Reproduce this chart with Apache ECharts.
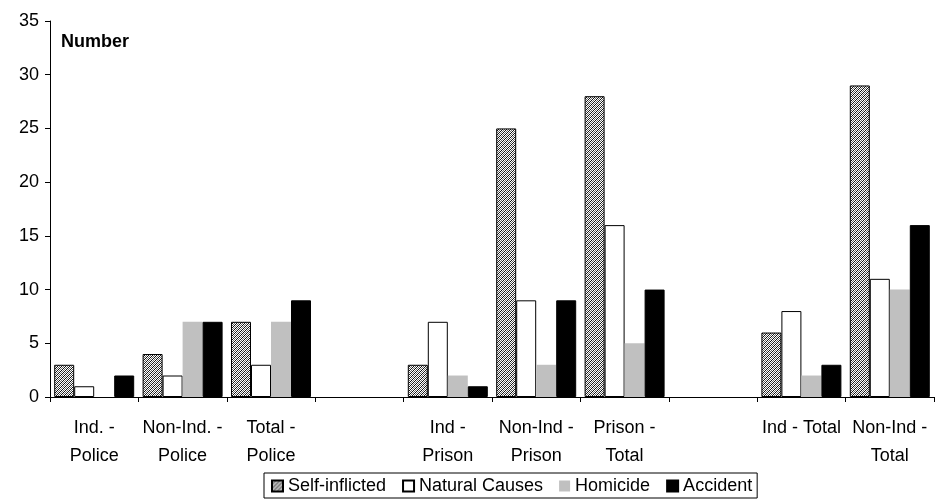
<!DOCTYPE html>
<html><head><meta charset="utf-8">
<script src="https://cdn.jsdelivr.net/npm/echarts@6/dist/echarts.min.js"></script>
<style>html,body{margin:0;padding:0;background:#fff}#c{width:942px;height:499px}</style>
</head><body><div id="c"></div>
<script>
const categories = ["Ind. -\nPolice","Non-Ind. -\nPolice","Total -\nPolice","","Ind -\nPrison","Non-Ind -\nPrison","Prison -\nTotal","","Ind - Total","Non-Ind -\nTotal"];
const selfInflicted = [3,4,7,null,3,25,28,null,6,29];
const naturalCauses = [1,2,3,null,7,9,16,null,8,11];
const homicide = [0,7,7,null,2,3,5,null,2,10];
const accident = [2,7,9,null,1,9,10,null,3,16];
const yTicks = {min:0,max:35,interval:5};

const pc = document.createElement('canvas');
pc.width = 4; pc.height = 4;
const g = pc.getContext('2d');
g.fillStyle = '#ffffff'; g.fillRect(0,0,4,4);
g.fillStyle = '#666666';
for (let i=0;i<4;i++){ g.fillRect((i+2)%4,3-i,1,1); }
g.fillStyle = '#111111';
for (let i=0;i<4;i++){ g.fillRect(i,3-i,1,1); }

const font = "'Liberation Sans', Arial, sans-serif";
const chart = echarts.init(document.getElementById('c'), null, {renderer:'canvas'});
const base = {type:'bar', barWidth:20, barGap:'0%', animation:false};
chart.setOption({
  animation:false,
  textStyle:{fontFamily:font},
  grid:{left:50,right:8,top:21,bottom:102,containLabel:false},
  graphic:[{type:'text',left:61,top:33,style:{text:'Number',font:'bold 18px '+font,fill:'#000'}}],
  legend:{
    left:264, top:473, orient:'horizontal', icon:'rect',
    borderColor:'#000', borderWidth:1, padding:[4,5,3,7],
    itemWidth:11, itemHeight:11, itemGap:16,
    textStyle:{fontSize:18,color:'#000',fontFamily:font},
    data:['Self-inflicted','Natural Causes','Homicide','Accident']
  },
  xAxis:{
    type:'category', data:categories, boundaryGap:true,
    axisLine:{lineStyle:{color:'#000',width:1}},
    axisTick:{show:true,interval:0,length:5,lineStyle:{color:'#000'}},
    axisLabel:{interval:0,fontSize:18,color:'#000',lineHeight:28,margin:17,fontFamily:font}
  },
  yAxis:{
    type:'value', min:yTicks.min, max:yTicks.max, interval:yTicks.interval,
    axisLine:{show:true,lineStyle:{color:'#000',width:1}},
    axisTick:{show:true,length:5,lineStyle:{color:'#000'}},
    axisLabel:{fontSize:18,color:'#000',margin:11,fontFamily:font},
    splitLine:{show:false}
  },
  series:[
    Object.assign({},base,{name:'Self-inflicted',data:selfInflicted,itemStyle:{color:{image:pc,repeat:'repeat'},borderColor:'#000',borderWidth:1}}),
    Object.assign({},base,{name:'Natural Causes',data:naturalCauses,itemStyle:{color:'#ffffff',borderColor:'#000',borderWidth:1}}),
    Object.assign({},base,{name:'Homicide',data:homicide,itemStyle:{color:'#c0c0c0'}}),
    Object.assign({},base,{name:'Accident',data:accident,itemStyle:{color:'#000000',borderColor:'#000',borderWidth:1}})
  ]
});
</script></body></html>
